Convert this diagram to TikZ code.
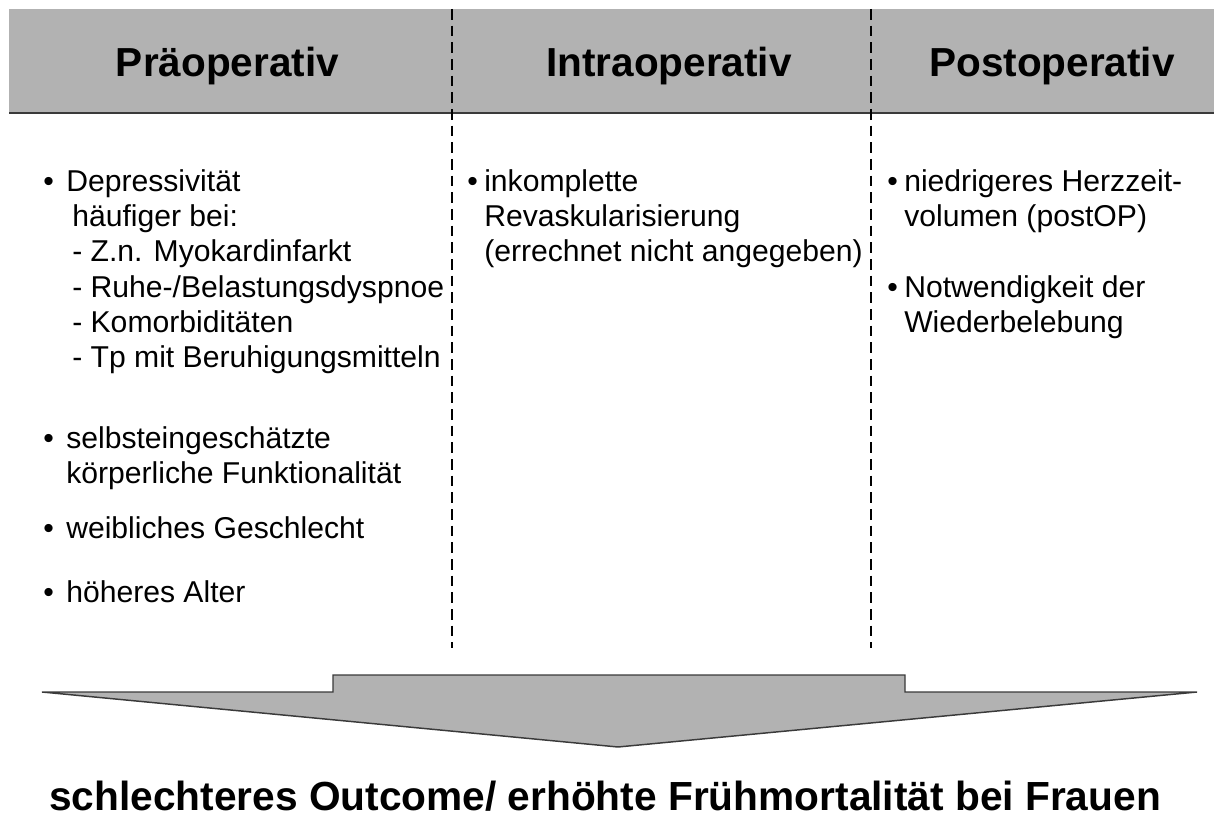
\documentclass[tikz,border=0pt]{standalone}
\usepackage{fontspec}
\setmainfont{Liberation Sans}
\definecolor{band}{HTML}{B2B2B2}
\definecolor{edge}{HTML}{3A3A3A}
\tikzset{
  title/.style={font=\bfseries\fontsize{30.4}{36}\selectfont, anchor=base, inner sep=0pt},
  body/.style={font=\fontsize{22.6}{26}\selectfont, anchor=base west, inner sep=0pt},
  result/.style={font=\bfseries\fontsize{30.5}{36}\selectfont, anchor=base, inner sep=0pt},
  divider/.style={line width=1.6pt, dash pattern=on 8pt off 4.5pt, black},
  arrowshape/.style={fill=band, draw=edge, line width=1.1pt, line join=miter},
}
\begin{document}
\begin{tikzpicture}[x=0.75pt,y=-0.75pt]
\useasboundingbox (0,0) rectangle (1214,820);
% header band
\fill[band] (9,9) rectangle (1214,113);
\draw[edge, line width=1.2pt] (9,113) -- (1214,113);
\node[title] (t1) at (227.5,77) {Präoperativ};
\node[title] (t2) at (669,77) {Intraoperativ};
\node[title] (t3) at (1052,77) {Postoperativ};
% dividers
\coordinate (d1a) at (452,9); \coordinate (d1b) at (452,648);
\coordinate (d2a) at (871,9); \coordinate (d2b) at (871,648);
\draw[divider] (d1a) -- (d1b);
\draw[divider] (d2a) -- (d2b);
% left column
\node[body] (b1) at (43,192) {•};
\node[body] (l1) at (66,192) {Depressivität};
\node[body] (l2) at (72,227) {häufiger bei:};
\node[body] (l3) at (72,262) {- Z.n. Myokardinfarkt};
\node[body] (l4) at (72,297) {- Ruhe-/Belastungsdyspnoe};
\node[body] (l5) at (72,332) {- Komorbiditäten};
\node[body] (l6) at (72,367) {- Tp mit Beruhigungsmitteln};
\node[body] (b2) at (43,448) {•};
\node[body] (l7) at (66,448) {selbsteingeschätzte};
\node[body] (l8) at (66,483) {körperliche Funktionalität};
\node[body] (b3) at (43,538) {•};
\node[body] (l9) at (66,538) {weibliches Geschlecht};
\node[body] (b4) at (43,602) {•};
\node[body] (l10) at (66,602) {höheres Alter};
% middle column
\node[body] (b5) at (467,192) {•};
\node[body] (m1) at (484,192) {inkomplette};
\node[body] (m2) at (484,227) {Revaskularisierung};
\node[body] (m3) at (484,262) {(errechnet nicht angegeben)};
% right column
\node[body] (b6) at (887,192) {•};
\node[body] (r1) at (904,192) {niedrigeres Herzzeit-};
\node[body] (r2) at (904,227) {volumen (postOP)};
\node[body] (b7) at (887,297) {•};
\node[body] (r3) at (904,297) {Notwendigkeit der};
\node[body] (r4) at (904,332) {Wiederbelebung};
% big arrow
\draw[arrowshape] (42,692) -- (333,692) -- (333,675) -- (905,675) -- (905,692) -- (1197,692) -- (618,747) -- cycle;
% result
\node[result] (res) at (605,810) {schlechteres Outcome/ erhöhte Frühmortalität bei Frauen};
\end{tikzpicture}
\end{document}
